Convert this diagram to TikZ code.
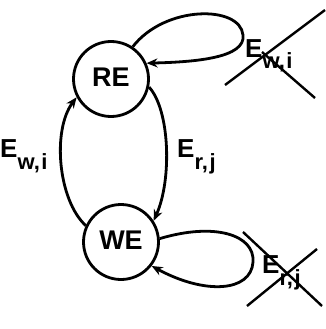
\documentclass[tikz,border=0pt]{standalone}
\usepackage{fontspec}
\setmainfont{Liberation Sans}
\usetikzlibrary{arrows.meta}

\newcommand{\elbl}[1]{E\raisebox{-12pt}{\fontsize{22}{22}\selectfont #1}}

\tikzset{
  state/.style={circle, draw, line width=2.8pt, minimum size=75pt, inner sep=0pt,
    font=\fontsize{27}{27}\selectfont\bfseries},
  edge/.style={line width=2.8pt, ->},
  lbl/.style={anchor=base west, inner sep=0pt, font=\fontsize{26}{26}\selectfont\bfseries},
  strike/.style={line width=2.4pt}
}

\begin{document}
\begin{tikzpicture}[x=1pt, y=-1pt, >={Stealth[length=11pt,width=9pt]}]

\useasboundingbox (0,0) rectangle (325,329);

\begin{scope}

\node[state] (RE) at (111,79) {\raisebox{4pt}{RE}};
\node[state] (WE) at (121,242) {\raisebox{3pt}{WE}};

\draw[edge] (RE.-12) .. controls (170,110) and (172,180) .. (WE.33);
\draw[edge] (WE.155) .. controls (58,200) and (52,130) .. (RE.-152);

\draw[edge] (RE.56) .. controls (165,5) and (240,5) .. (243,35) .. controls (246,58) and (195,62) .. (RE.24);
\draw[edge] (WE.5) .. controls (215,222) and (255,235) .. (253,262) .. controls (251,292) and (205,295) .. (WE.-38);

\node[lbl] (ewi) at (0,157) {\elbl{w,\kern1.5pt i}};
\node[lbl] (erj) at (177,157) {\elbl{r,\kern1.5pt j}};
\node[lbl] (loopwi) at (245,57) {\elbl{w,\kern1.5pt i}};
\node[lbl] (looprj) at (262,273) {\elbl{r,\kern1.5pt j}};

\draw[strike] (225,85) -- (325,10);
\draw[strike] (262,52) -- (315,98);
\draw[strike] (243,232) -- (322,306);
\draw[strike] (247,306) -- (317,249);

\end{scope}

\end{tikzpicture}
\end{document}
